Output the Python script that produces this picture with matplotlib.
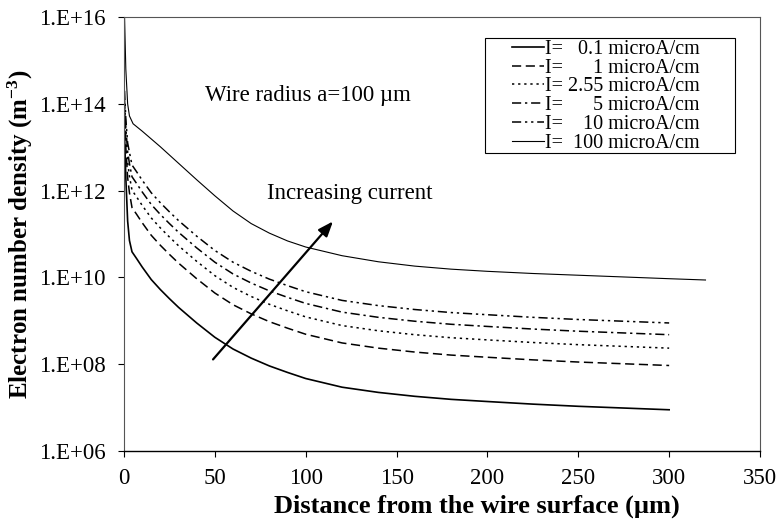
"""Electron number density vs distance from the wire surface, several currents."""

import matplotlib

matplotlib.use("Agg")

import matplotlib.pyplot as plt
import numpy as np
from matplotlib.patches import Rectangle
from matplotlib.ticker import FixedLocator, FuncFormatter, NullLocator


# distance from wire surface (um) and log10 of density (m^-3)
DIST = [0.3, 1, 2, 3, 4.4, 7, 10, 15, 20, 25, 30, 40, 50, 60, 70, 80, 90, 100,
        120, 140, 160, 180, 200, 225, 250, 275, 300]
LOG_I01 = [13.3, 12.3, 11.3, 10.85, 10.59, 10.43, 10.24, 9.95, 9.72, 9.51, 9.31, 8.95, 8.62, 8.35,
           8.14, 7.96, 7.81, 7.67, 7.47, 7.35, 7.26, 7.19, 7.14, 7.08, 7.03, 6.99, 6.95]
LOG_I1 = [13.7, 13.0, 12.3, 11.95, 11.61, 11.45, 11.26, 10.97, 10.74, 10.53, 10.33, 9.97, 9.64, 9.37,
          9.16, 8.98, 8.83, 8.69, 8.49, 8.37, 8.28, 8.21, 8.16, 8.10, 8.05, 8.01, 7.97]
LOG_I255 = [13.9, 13.25, 12.65, 12.33, 12.01, 11.85, 11.66, 11.37, 11.14, 10.93, 10.73, 10.37, 10.04, 9.77,
            9.56, 9.38, 9.23, 9.09, 8.89, 8.77, 8.68, 8.61, 8.56, 8.50, 8.45, 8.41, 8.37]
LOG_I5 = [14.1, 13.45, 12.9, 12.62, 12.32, 12.16, 11.97, 11.68, 11.45, 11.24, 11.04, 10.68, 10.35, 10.08,
          9.87, 9.69, 9.54, 9.40, 9.20, 9.08, 8.99, 8.92, 8.87, 8.81, 8.76, 8.72, 8.68]
LOG_I10 = [14.3, 13.65, 13.1, 12.88, 12.59, 12.43, 12.24, 11.95, 11.72, 11.51, 11.31, 10.95, 10.62, 10.35,
           10.14, 9.96, 9.81, 9.67, 9.47, 9.35, 9.26, 9.19, 9.14, 9.08, 9.03, 8.99, 8.95]

DIST_I100 = [0.3, 1, 2, 3, 5, 10, 15, 20, 30, 40, 50, 60, 70, 80, 90, 100,
             120, 140, 160, 180, 200, 225, 250, 275, 300, 320]
LOG_I100 = [16.0, 14.8, 14.0, 13.72, 13.54, 13.37, 13.19, 13.01, 12.63, 12.25, 11.88, 11.53, 11.24,
            11.02, 10.84, 10.70, 10.50, 10.36, 10.26, 10.19, 10.14, 10.09, 10.05, 10.01, 9.97, 9.94]

LABELS = [
    "I=   0.1 microA/cm",
    "I=      1 microA/cm",
    "I= 2.55 microA/cm",
    "I=      5 microA/cm",
    "I=    10 microA/cm",
    "I=  100 microA/cm",
]
Y_TICKS = [1e6, 1e8, 1e10, 1e12, 1e14, 1e16]
X_TICKS = [0, 50, 100, 150, 200, 250, 300, 350]

plt.rcParams["font.family"] = ["Liberation Serif", "DejaVu Serif"]
plt.rcParams["mathtext.fontset"] = "custom"
plt.rcParams["mathtext.rm"] = "Liberation Serif:bold"
plt.rcParams["mathtext.default"] = "rm"

W, H = 781, 525
L, R, T, B = 124, 760, 17, 451
fig = plt.figure(figsize=(W / 100, H / 100), dpi=100)
ax = fig.add_axes([L / W, 1 - B / H, (R - L) / W, (B - T) / H])


def ax_frac(px, py):
    return (px - L) / (R - L), (B - py) / (B - T)


series = [
    (DIST, LOG_I01, "-", 1.2),
    (DIST, LOG_I1, (0, (6, 3)), 1.1),
    (DIST, LOG_I255, (0, (1.5, 2.5)), 1.1),
    (DIST, LOG_I5, (0, (6, 2.5, 1.5, 2.5)), 1.1),
    (DIST, LOG_I10, (0, (6, 2.5, 1.5, 2.5, 1.5, 2.5)), 1.1),
    (DIST_I100, LOG_I100, "-", 0.8),
]
for (x, logy, ls, lw), label in zip(series, LABELS):
    ax.plot(x, np.power(10.0, logy), color="black", linestyle=ls, linewidth=lw, label=label)

ax.set_yscale("log")
ax.set_xlim(0, 350)
ax.set_ylim(1e6, 1e16)
ax.yaxis.set_major_locator(FixedLocator(Y_TICKS))
ax.yaxis.set_minor_locator(NullLocator())
ax.yaxis.set_major_formatter(FuncFormatter(lambda v, _: f"1.E+{int(round(np.log10(v))):02d}"))
ax.set_xticks(X_TICKS)
ax.tick_params(direction="out", length=4.3, width=0.8, labelsize=16.5, colors="black")
ax.tick_params(axis="y", pad=9)
ax.tick_params(axis="x", pad=8)
for side in ("top", "right", "left"):
    ax.spines[side].set_color("#555555")
    ax.spines[side].set_linewidth(0.8)
ax.spines["bottom"].set_linewidth(1.0)

ax.set_xlabel("Distance from the wire surface (\u00b5m)", fontsize=19, fontweight="bold")
ax.xaxis.set_label_coords((477 - L) / (R - L), -0.100)
ax.set_ylabel("Electron number density (m$^{-3}$)", fontsize=18, fontweight="bold", labelpad=3)

ax.text(44.6, 10**14.2, "Wire radius a=100 \u00b5m", fontsize=16.5, va="center", ha="left")
ax.text(78.7, 10**11.94, "Increasing current", fontsize=16.5, va="center", ha="left")
ax.annotate(
    "",
    xy=(115, 10**11.29),
    xytext=(49, 10**8.11),
    arrowprops=dict(arrowstyle="-|>,head_length=0.9,head_width=0.35", color="black", lw=1.6,
                    shrinkA=0, shrinkB=0),
)

# legend box: white frame drawn separately, entries packed tightly like the original
x0, y1 = ax_frac(485, 38)
x1, y0 = ax_frac(735, 153)
ax.add_patch(Rectangle((x0, y0), x1 - x0, y1 - y0, transform=ax.transAxes, facecolor="white",
                       edgecolor="black", linewidth=0.8, zorder=4))
lx, ly = ax_frac(512, 40)
leg = ax.legend(
    loc="upper left",
    bbox_to_anchor=(lx, ly),
    fontsize=14.5,
    frameon=False,
    handlelength=1.6,
    handletextpad=0.05,
    labelspacing=-0.02,
    borderpad=0,
    borderaxespad=0,
)
leg.set_zorder(5)

fig.savefig("out.png", dpi=100, facecolor="white")
plt.close(fig)
